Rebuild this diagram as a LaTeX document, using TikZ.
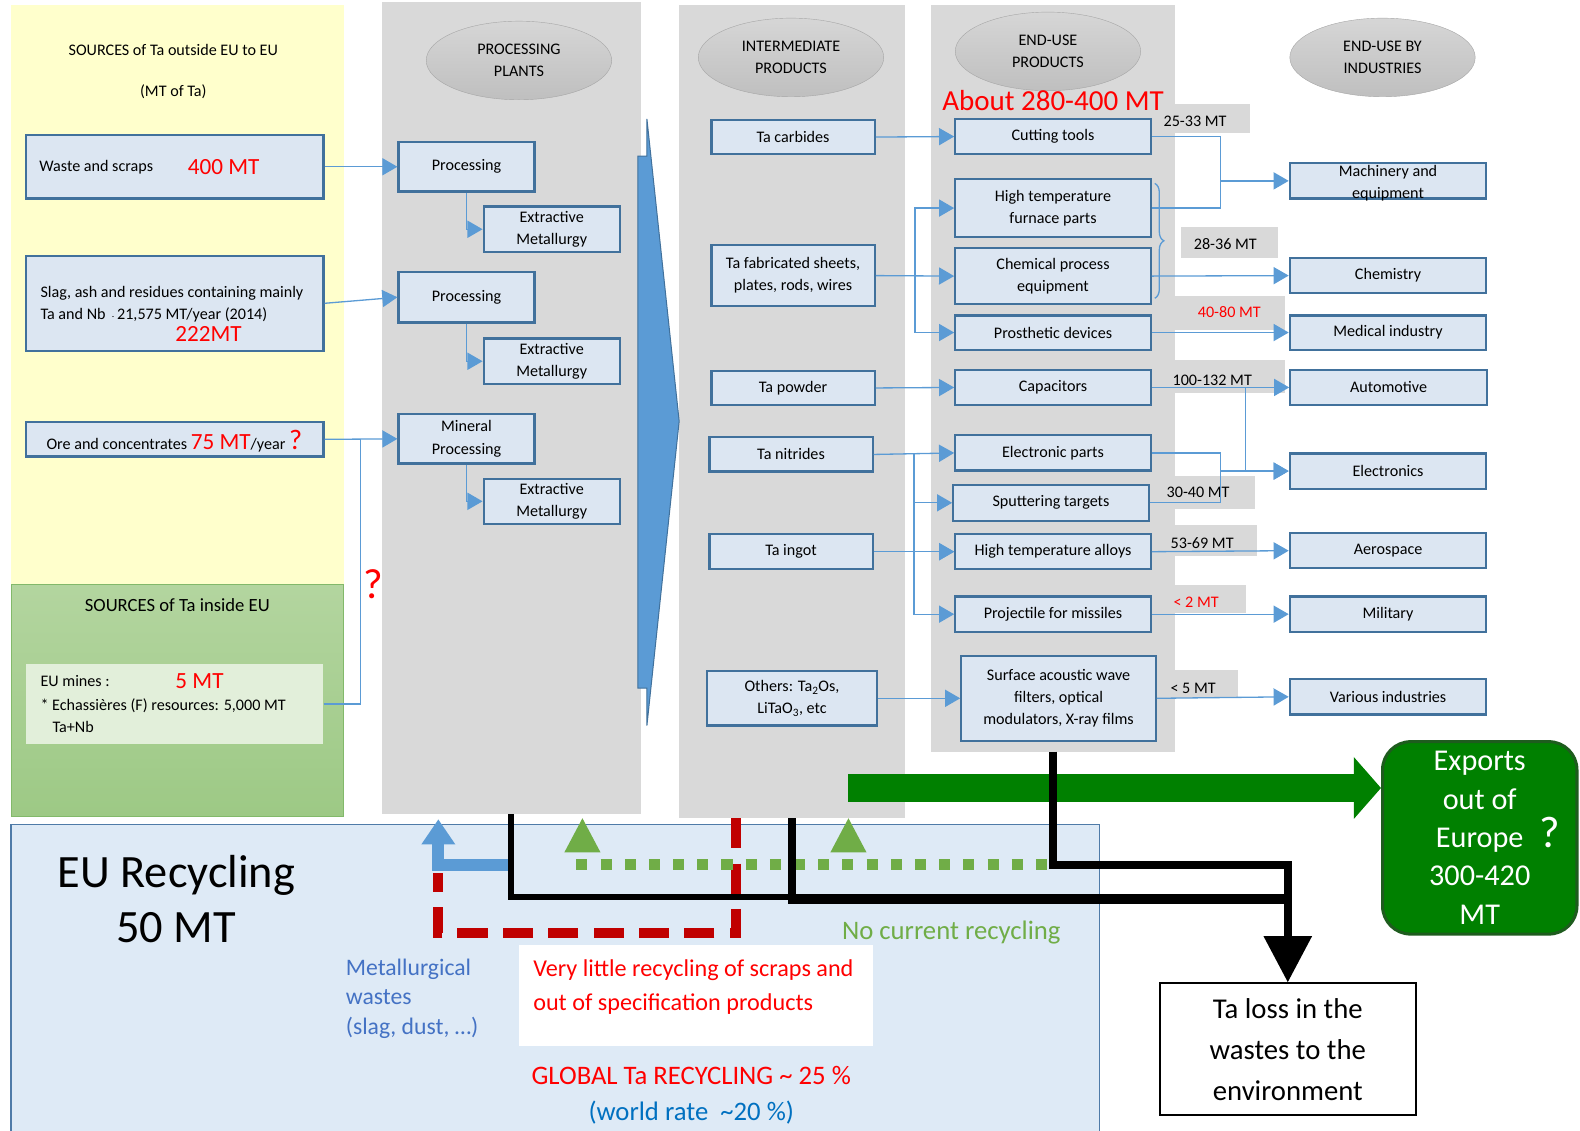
\documentclass[tikz,border=0pt]{standalone}
\usepackage{fontspec}
\setmainfont{Carlito}
\usetikzlibrary{arrows.meta,shapes.geometric,decorations.pathreplacing}

\definecolor{boxline}{HTML}{41719C}
\definecolor{boxfill}{HTML}{DCE6F2}
\definecolor{linkblue}{HTML}{5B9BD5}
\definecolor{panelgray}{HTML}{D9D9D9}
\definecolor{srcyellow}{HTML}{FFFFCC}
\definecolor{srcgreenhigh}{HTML}{B3D59F}
\definecolor{srcgreenlow}{HTML}{9DC985}
\definecolor{srcgreenline}{HTML}{82B96A}
\definecolor{minesgreen}{HTML}{E2EFDA}
\definecolor{recycblue}{HTML}{DEEAF6}
\definecolor{recycline}{HTML}{4F7BA8}
\definecolor{ellhigh}{HTML}{D6D6D6}
\definecolor{elllow}{HTML}{BFBFBF}
\definecolor{ellline}{HTML}{A6A6A6}
\definecolor{darkred}{HTML}{C00000}
\definecolor{leafgreen}{HTML}{70AD47}
\definecolor{exportgreen}{HTML}{008000}
\definecolor{exportedge}{HTML}{1E5C1E}
\definecolor{wasteblue}{HTML}{4472C4}
\definecolor{rateblue}{HTML}{0070C0}

\tikzset{
  txt/.style={font=\fontsize{16}{22}\selectfont, inner sep=0pt},
  tabox/.style={draw=boxline, fill=boxfill, line width=2.2pt, align=center, inner sep=1pt, font=\fontsize{16}{22}\selectfont},
  panelbg/.style={fill=panelgray, inner sep=0pt, outer sep=0pt},
  titleell/.style={ellipse, draw=ellline, top color=ellhigh, bottom color=elllow, align=center, inner sep=0pt, minimum width=184, minimum height=78, font=\fontsize{16}{22}\selectfont},
  flowline/.style={draw=linkblue, line width=1.3pt},
  flowarrow/.style={flowline, -{Triangle[length=15pt,width=17pt]}},
  bigred/.style={text=red, font=\fontsize{23}{23}\selectfont, inner sep=0pt},
  mttext/.style={font=\fontsize{16}{17}\selectfont, inner sep=0pt},
}

\begin{document}
\begin{tikzpicture}[x=1pt,y=-1pt]
\useasboundingbox (0,0) rectangle (1568,1122);

\node[fill=srcyellow, minimum width=330, minimum height=575, inner sep=0pt] (outside) at (176,292.5) {};
\node[top color=srcgreenhigh, bottom color=srcgreenlow, draw=srcgreenline, line width=1pt, minimum width=330, minimum height=230, inner sep=0pt] (inside) at (176,695) {};
\node[panelbg, minimum width=257, minimum height=806] (procpanel) at (507.5,405) {};
\node[panelbg, minimum width=224, minimum height=807] (midpanel) at (786,408.5) {};
\node[panelbg, minimum width=242, minimum height=741] (usepanel) at (1045,375.5) {};
\node[draw=recycline, fill=recycblue, line width=1.5pt, minimum width=1080, minimum height=320, inner sep=0pt] (recyc) at (551,978) {};

\fill[panelgray] (1145,103) rectangle (1240,132);
\fill[panelgray] (1172,225) rectangle (1268,256);
\fill[panelgray] (1166,294) rectangle (1275,327);
\fill[panelgray] (1166,357) rectangle (1275,390);
\fill[panelgray] (1150,472) rectangle (1245,505);
\fill[panelgray] (1150,521) rectangle (1247,552);
\fill[panelgray] (1150,581) rectangle (1237,608);
\fill[panelgray] (1150,665) rectangle (1229,693);

\node[titleell] (plants) at (515,60) {PROCESSING\\PLANTS};
\node[titleell] (interm) at (785,57) {INTERMEDIATE\\PRODUCTS};
\node[titleell] (enduse) at (1040,51) {END-USE\\PRODUCTS};
\node[titleell] (industries) at (1372,57) {END-USE BY\\INDUSTRIES};

\filldraw[fill=linkblue, draw=boxline, line width=1pt] (642,118) -- (674,418) -- (642,720) -- (642,683) -- (633,683) -- (633,155) -- (642,155) -- cycle;

\node[txt] at (172,50) {SOURCES of Ta outside EU to EU};
\node[txt] at (172,91) {(MT of Ta)};
\node[txt, font=\fontsize{18.5}{20}\selectfont] at (176,600) {SOURCES of Ta inside EU};

\node[tabox, minimum width=295, minimum height=63] (waste) at (173.5,165.5) {};
\node[txt, anchor=west] at ([xshift=14]waste.west) {Waste and scraps};
\node[bigred] at (222,166) {400 MT};
\node[tabox, minimum width=295, minimum height=94] (slag) at (173.5,301) {};
\node[txt, anchor=west, align=left] at (40,301.5) {Slag, ash and residues containing mainly\\Ta and Nb \,{\fontsize{8}{8}\selectfont -}\,21,575 MT/year (2014)};
\node[bigred] at (207,331) {222MT};
\node[tabox, minimum width=295, minimum height=34] (ore) at (173.5,436) {};
\node[txt, anchor=base west] at (46,446) {Ore and concentrates {\color{red}\fontsize{23}{23}\selectfont 75 MT}/year {\color{red}\fontsize{28}{28}\selectfont ?}};
\node[fill=minesgreen, minimum width=295, minimum height=79, inner sep=0pt] (mines) at (173.5,698.5) {};
\node[txt, anchor=west] at (40,676) {EU mines :};
\node[bigred] at (198,676) {5 MT};
\node[txt, anchor=west, align=left] at (40,710) {* Echassières (F) resources: 5,000 MT\\\hspace{12pt}Ta+Nb};
\node[text=red, font=\fontsize{42}{42}\selectfont, inner sep=0pt] at (370,580) {?};

\node[tabox, minimum width=135, minimum height=49] (proc1) at (463,165.5) {Processing};
\node[tabox, minimum width=135, minimum height=45] (ext1) at (547.5,227.5) {Extractive\\Metallurgy};
\node[tabox, minimum width=135, minimum height=50] (proc2) at (463,295) {Processing};
\node[tabox, minimum width=135, minimum height=45] (ext2) at (547.5,358.5) {Extractive\\Metallurgy};
\node[tabox, minimum width=135, minimum height=49] (proc3) at (463,435.5) {Mineral\\Processing};
\node[tabox, minimum width=135, minimum height=45] (ext3) at (547.5,497.5) {Extractive\\Metallurgy};

\node[tabox, minimum width=162, minimum height=34] (carb) at (787,136) {Ta carbides};
\node[tabox, minimum width=162, minimum height=61] (sheet) at (787,273.5) {Ta fabricated sheets,\\plates, rods, wires};
\node[tabox, minimum width=162, minimum height=34] (powder) at (787,385) {Ta powder};
\node[tabox, minimum width=162, minimum height=34] (nitr) at (785,451) {Ta nitrides};
\node[tabox, minimum width=162, minimum height=35] (ingot) at (785,547.5) {Ta ingot};
\node[tabox, minimum width=168, minimum height=54] (others) at (786,693) {Others: Ta\textsubscript{2}Os,\\LiTaO\textsubscript{3}, etc};

\node[text=red, font=\fontsize{28.8}{29}\selectfont, inner sep=0pt] at (1045,100) {About 280-400 MT};
\node[tabox, minimum width=194, minimum height=35] (cut) at (1045,135.5) {Cutting tools};
\node[tabox, minimum width=194, minimum height=57] (furn) at (1045,206.5) {High temperature\\furnace parts};
\node[tabox, minimum width=194, minimum height=56] (chem) at (1045,274) {Chemical process\\equipment};
\node[tabox, minimum width=194, minimum height=34] (pros) at (1045,330) {Prosthetic devices};
\node[tabox, minimum width=194, minimum height=35] (capa) at (1045,384.5) {Capacitors};
\node[tabox, minimum width=194, minimum height=35] (elec) at (1045,449.5) {Electronic parts};
\node[tabox, minimum width=194, minimum height=36] (sputt) at (1043,499) {Sputtering targets};
\node[tabox, minimum width=194, minimum height=35] (alloy) at (1045,547.5) {High temperature alloys};
\node[tabox, minimum width=194, minimum height=35] (proj) at (1045,609.5) {Projectile for missiles};
\node[tabox, minimum width=193, minimum height=84] (saw) at (1050.5,693) {Surface acoustic wave\\filters, optical\\modulators, X-ray films};

\node[tabox, minimum width=195, minimum height=35] (mach) at (1377.5,179.5) {};
\node[txt, align=center] at (1377.5,181.5) {Machinery and\\equipment};
\node[tabox, minimum width=195, minimum height=35] (chemy) at (1377.5,273.5) {Chemistry};
\node[tabox, minimum width=195, minimum height=34] (medi) at (1377.5,330) {Medical industry};
\node[tabox, minimum width=195, minimum height=35] (auto) at (1378,384.5) {Automotive};
\node[tabox, minimum width=195, minimum height=35] (elecy) at (1377.5,467.5) {Electronics};
\node[tabox, minimum width=195, minimum height=35] (aero) at (1377.5,546.5) {Aerospace};
\node[tabox, minimum width=195, minimum height=35] (mili) at (1377.5,609.5) {Military};
\node[tabox, minimum width=195, minimum height=35] (vari) at (1377.5,691.5) {Various industries};

\node[mttext] at (1186,120) {25-33 MT};
\node[mttext] at (1216,242) {28-36 MT};
\node[mttext, text=red] at (1220,310) {40-80 MT};
\node[mttext] at (1203,377) {100-132 MT};
\node[mttext] at (1189,489) {30-40 MT};
\node[mttext] at (1193,539) {53-69 MT};
\node[mttext, text=red] at (1187,598) {< 2 MT};
\node[mttext] at (1184,683) {< 5 MT};

\draw[flowarrow] (waste.east) -- (proc1.west);
\draw[flowarrow] (slag.east) -- (proc2.west);
\draw[flowarrow] (ore.east) -- (proc3.west);
\coordinate (orejoin) at (358,436);
\draw[flowline] (mines.east) -| (orejoin);
\draw[flowarrow] (proc1.south) |- (ext1.west);
\draw[flowarrow] (proc2.south) |- (ext2.west);
\draw[flowarrow] (proc3.south) |- (ext3.west);

\draw[flowarrow] (carb.east) -- (cut.west);
\coordinate (sheetbus) at (908,273.5);
\draw[flowarrow] (sheet.east) -- (chem.west);
\draw[flowarrow] (sheetbus) |- (furn.west);
\draw[flowarrow] (sheetbus) |- (pros.west);
\draw[flowarrow] (powder.east) -- (capa.west);
\coordinate (nitrbus) at (907,451);
\draw[flowarrow] (nitr.east) -- (elec.west);
\draw[flowarrow] (nitrbus) |- (sputt.west);
\draw[flowarrow] (nitrbus) |- (alloy.west);
\draw[flowarrow] (nitrbus) |- (proj.west);
\draw[flowarrow] (ingot.east) -- (alloy.west);
\draw[flowarrow] (others.east) -- (saw.west);

\coordinate (machjoin) at (1211,179.5);
\draw[flowline] (cut.east) -| (machjoin);
\draw[flowline] (furn.east) -| (machjoin);
\draw[flowarrow] (machjoin) -- (mach.west);
\draw[flowline, decorate, decoration={brace, amplitude=9pt}] (1146,182) -- (1146,296);
\draw[flowarrow] (chem.east) -- (chemy.west);
\draw[flowarrow] (pros.east) -- (medi.west);
\draw[flowarrow] (capa.east) -- (auto.west);
\coordinate (capadrop) at (1236,384.5);
\draw[flowarrow] (capadrop) |- (elecy.west);
\coordinate (elecjoin) at (1211,467.5);
\draw[flowline] (elec.east) -| (elecjoin);
\draw[flowline] (sputt.east) -| (elecjoin);
\draw[flowarrow] (elecjoin) -- (elecy.west);
\draw[flowarrow] (alloy.east) -- (aero.west);
\draw[flowarrow] (proj.east) -- (mili.west);
\draw[flowarrow] (saw.east) -- (vari.west);

\node[font=\fontsize{46}{55}\selectfont, align=center, inner sep=0pt] at (175,892) {EU Recycling\\50 MT};
\node[fill=white, minimum width=351, minimum height=100, inner sep=0pt] (scrapnote) at (690.5,988) {};
\node[text=red, anchor=west, align=left, font=\fontsize{24}{33}\selectfont, inner sep=0pt] at (529,979.5) {Very little recycling of scraps and\\out of specification products};
\node[text=wasteblue, anchor=west, align=left, font=\fontsize{23.5}{29}\selectfont, inner sep=0pt] at (343,991) {Metallurgical\\wastes\\(slag, dust, …)};
\node[text=leafgreen, font=\fontsize{26.5}{27}\selectfont, inner sep=0pt] at (944,925) {No current recycling};
\node[text=red, font=\fontsize{26.5}{27}\selectfont, inner sep=0pt] at (686,1067) {GLOBAL Ta RECYCLING \textasciitilde{} 25 \%};
\node[text=rateblue, font=\fontsize{26.5}{27}\selectfont, inner sep=0pt] at (686,1104) {(world rate \ \textasciitilde20 \%)};

\node[draw=exportedge, fill=exportgreen, line width=3pt, rounded corners=28pt, minimum width=193, minimum height=191, inner sep=0pt, text=white, align=center, font=\fontsize{30}{38}\selectfont] (exports) at (1468.5,831.5) {Exports\\out of\\Europe\\300-420\\MT};
\node[text=white, font=\fontsize{44}{44}\selectfont, inner sep=0pt] at (1538,826) {?};
\node[draw=black, fill=white, line width=2pt, minimum width=254, minimum height=131, inner sep=0pt, align=center, font=\fontsize{28.5}{40.5}\selectfont] (loss) at (1278,1041.5) {Ta loss in the\\wastes to the\\environment};

\coordinate (exportstart) at (842,782);
\draw[exportgreen, line width=28pt, -{Triangle[length=27pt,width=60pt]}] (exportstart) -- (exportstart -| exports.west);

\draw[darkred, line width=10pt, dash pattern=on 30pt off 15pt] (730,812) -- (730,926) -- (435,926) -- (435,866);
\draw[leafgreen, line width=11pt, dash pattern=on 11pt off 13pt] (572,858) -- (1040,858);
\fill[leafgreen] (578,812) -- (596,846) -- (560,846) -- cycle;
\fill[leafgreen] (842,812) -- (860,846) -- (824,846) -- cycle;
\draw[linkblue, line width=12pt, -{Triangle[length=25pt,width=32pt]}] (510,858) -- (435,858) -- (435,813);

\draw[black, line width=6pt] (procpanel.south) |- (1282,890);
\draw[black, line width=8pt] (midpanel.south) |- (1282,893);
\draw[black, line width=8pt, -{Triangle[length=46pt,width=46pt]}] (usepanel.south) |- (1278,858) -- (loss.north);
\end{tikzpicture}
\end{document}
